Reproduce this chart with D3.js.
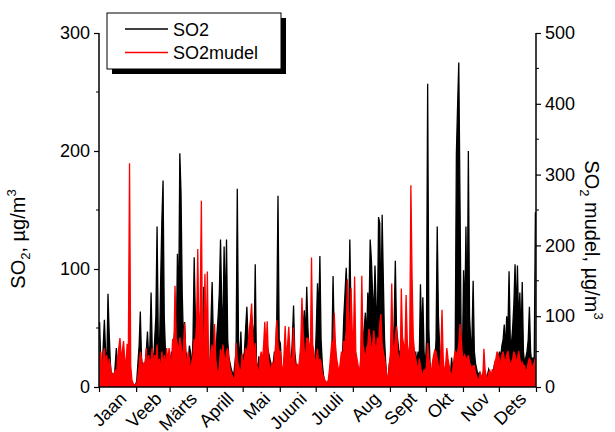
<!DOCTYPE html>
<html><head><meta charset="utf-8">
<script src="https://cdn.jsdelivr.net/npm/d3@7"></script>
<style>body{margin:0;background:#fff;} text{font-family:"Liberation Sans",Arial,sans-serif;fill:#000;}</style>
</head><body><svg id="c" width="615" height="432"></svg>
<script>
const months = ["Jaan","Veeb","Märts","Aprill","Mai","Juuni","Juuli","Aug","Sept","Okt","Nov","Dets"];
const monthDays = [31,28,31,30,31,30,31,31,30,31,30,31];
const leftTicks = [0,100,200,300];
const rightTicks = [0,100,200,300,400,500];
const seriesNames = ["SO2","SO2mudel"];
// SO2 measured, daily, µg/m3 (left axis)
const so2 = [
55,20,10,35,57,30,15,79,46,20,8,12,5,18,33,12,20,25,15,22,18,10,20,15,8,12,5,3,2,1,2,
5,20,35,64,25,15,10,20,30,47,25,35,80,30,20,40,60,136,43,30,90,141,175,60,30,20,25,15,
20,30,15,40,50,30,113,60,198,165,80,40,55,30,25,20,35,29,15,40,110,60,25,45,30,20,35,40,85,30,20,
30,20,15,55,89,40,30,20,45,60,80,125,70,50,119,60,125,40,25,20,15,12,10,20,30,168,40,20,47,15,
25,30,50,68,40,25,30,60,50,30,104,20,15,26,10,8,15,20,25,40,35,30,25,20,15,20,30,25,60,162,40,
37,15,10,5,20,15,25,20,15,20,40,69,30,20,15,10,15,20,30,50,65,40,85,50,30,25,40,30,25,20,
50,88,60,111,40,20,10,5,3,2,5,8,15,30,94,40,25,15,10,8,12,20,30,60,80,101,70,50,125,60,30,
40,20,15,5,3,8,15,25,40,50,63,40,80,60,125,108,80,60,103,70,50,144,139,60,146,90,40,20,5,8,20,
25,40,30,54,107,50,40,30,29,35,30,25,20,30,25,20,30,25,15,20,15,30,20,30,25,87,40,76,30,15,
40,257,50,20,10,15,25,20,40,136,60,35,20,15,10,8,12,20,10,16,10,25,15,10,30,198,238,275,160,40,20,
99,60,136,40,200,60,38,40,90,30,20,15,10,12,5,8,10,15,12,8,10,15,12,10,8,15,20,15,20,25,
30,25,35,40,53,30,60,45,98,40,37,50,70,104,60,103,50,80,40,89,30,20,25,30,40,68,30,20,25,21,148
];
// SO2 model, daily, µg/m3 (right axis)
const so2mudel = [
40,50,20,45,55,30,45,20,40,30,15,20,10,25,15,40,55,69,45,50,65,40,30,61,45,316,30,10,5,3,2,
5,15,30,50,40,20,35,30,55,25,45,30,40,55,30,45,35,60,25,40,20,50,30,45,25,55,35,55,
40,30,68,50,143,68,60,50,70,60,40,55,90,45,30,50,40,20,35,45,68,60,90,195,60,110,263,40,70,160,45,
163,40,30,50,60,30,89,40,25,15,30,54,40,60,45,30,50,55,40,25,20,15,10,15,62,40,30,25,20,47,
30,40,55,45,60,80,95,118,70,40,62,35,25,20,40,50,35,60,92,50,93,40,30,20,35,25,40,60,95,60,50,
50,30,20,45,86,40,60,85,50,30,45,84,40,20,33,25,40,60,126,80,50,40,69,69,60,40,183,60,50,30,
40,54,30,40,35,20,15,10,8,5,10,25,45,65,50,105,60,40,30,20,35,50,40,65,60,80,152,100,60,140,80,
60,156,50,40,30,20,40,157,60,50,40,55,60,82,70,50,60,80,60,50,70,60,90,103,60,50,40,30,15,10,30,
50,146,60,50,70,86,50,40,20,139,70,60,50,130,65,40,60,285,154,70,50,40,30,25,40,30,20,15,25,20,
30,62,40,30,20,35,45,52,50,40,30,20,50,109,40,20,30,55,40,30,20,15,25,40,51,45,50,60,89,70,45,
40,45,40,40,45,35,30,25,30,30,20,15,10,12,20,15,10,54,24,15,10,20,23,15,25,20,35,40,50,45,
40,30,45,50,40,35,45,51,40,30,35,40,50,45,35,40,51,40,30,35,30,30,20,25,35,40,37,25,30,35,41
];

const svg = d3.select("#c");
const L = 99, R = 536, T = 33, B = 387;
const nDays = d3.sum(monthDays);
const x = d3.scaleLinear().domain([0, nDays]).range([L, R]);
const yL = d3.scaleLinear().domain([0, 300]).range([B, T]);
const yR = d3.scaleLinear().domain([0, 500]).range([B, T]);

svg.append("clipPath").attr("id","clip").append("rect")
  .attr("x", L).attr("y", T - 2).attr("width", R - L).attr("height", B - T + 2);

const plot = svg.append("g").attr("clip-path","url(#clip)");

function drawSeries(data, y, color) {
  const area = d3.area().x((d,i)=>x(i+0.5)).y0(y(0)).y1(d=>y(d));
  const line = d3.line().x((d,i)=>x(i+0.5)).y(d=>y(d));
  plot.append("path").datum(data).attr("d", area).attr("fill", color);
  plot.append("path").datum(data).attr("d", line).attr("fill","none")
    .attr("stroke", color).attr("stroke-width", 1.3).attr("stroke-linejoin","miter");
}
drawSeries(so2, yL, "#000");
drawSeries(so2mudel, yR, "#ff0000");

// Left axis
const lAx = svg.append("g").attr("transform", `translate(${L},0)`)
  .call(d3.axisLeft(yL).tickValues(leftTicks).tickSize(5).tickPadding(4).tickFormat(d3.format("d")));
lAx.append("g").selectAll("line").data(d3.range(50, 300, 100)).join("line")
  .attr("x1", 0).attr("x2", -3).attr("y1", d=>yL(d)).attr("y2", d=>yL(d)).attr("stroke","#000");

// Right axis
const rAx = svg.append("g").attr("transform", `translate(${R},0)`)
  .call(d3.axisRight(yR).tickValues(rightTicks).tickSize(5).tickPadding(4).tickFormat(d3.format("d")));
rAx.append("g").selectAll("line").data(d3.range(50, 500, 100)).join("line")
  .attr("x1", 0).attr("x2", 3).attr("y1", d=>yR(d)).attr("y2", d=>yR(d)).attr("stroke","#000");

// Bottom axis: ticks at month boundaries
const bounds = [0, ...d3.cumsum(monthDays)];
const bAx = svg.append("g").attr("transform", `translate(0,${B})`)
  .call(d3.axisBottom(x).tickValues(bounds).tickSize(5).tickFormat(""));
const mids = months.map((m,i)=>({m, c:(bounds[i]+bounds[i+1])/2}));
svg.append("g").selectAll("text").data(mids).join("text")
  .attr("transform", d=>`translate(${x(d.c)+10},${B+13}) rotate(-45)`)
  .attr("text-anchor","end").attr("font-size", 18).text(d=>d.m);

[lAx, rAx, bAx].forEach(g=>{
  g.select(".domain").attr("stroke","#000").attr("stroke-width",1.5);
  g.selectAll(".tick line").attr("stroke","#000").attr("stroke-width",1.2);
  g.selectAll("text").attr("font-size", 18).attr("font-family","Liberation Sans, Arial, sans-serif").attr("fill","#000");
});
lAx.select(".domain").attr("d", `M0,${B}V${T}`);
rAx.select(".domain").attr("d", `M0,${B}V${T}`);
bAx.select(".domain").attr("d", `M${L},0H${R}`);

// Axis titles
const lt = svg.append("text").attr("transform", `translate(25,239) rotate(-90)`)
  .attr("text-anchor","middle").attr("font-size", 20);
lt.append("tspan").text("SO");
lt.append("tspan").attr("font-size", 13).attr("dy", 5).text("2");
lt.append("tspan").attr("dy", -5).text(", µg/m");
lt.append("tspan").attr("font-size", 13).attr("dy", -9).text("3");

const rt = svg.append("text").attr("transform", `translate(585,240) rotate(90)`)
  .attr("text-anchor","middle").attr("font-size", 20);
rt.append("tspan").text("SO");
rt.append("tspan").attr("font-size", 13).attr("dy", 5).text("2");
rt.append("tspan").attr("dy", -5).text(" mudel, µg/m");
rt.append("tspan").attr("font-size", 13).attr("dy", -9).text("3");

// Legend
const lg = svg.append("g");
lg.append("rect").attr("x", 112).attr("y", 18).attr("width", 174).attr("height", 56).attr("fill","#000");
lg.append("rect").attr("x", 107).attr("y", 13).attr("width", 174).attr("height", 56)
  .attr("fill","#fff").attr("stroke","#000").attr("stroke-width",1);
const lcol = ["#000","#ff0000"];
seriesNames.forEach((s,i)=>{
  const yy = 29 + i*23.5;
  lg.append("line").attr("x1",125).attr("x2",168).attr("y1",yy).attr("y2",yy)
    .attr("stroke", lcol[i]).attr("stroke-width",1.3);
  lg.append("text").attr("x",173).attr("y",yy+6.5).attr("font-size",18).text(s);
});
</script></body></html>
